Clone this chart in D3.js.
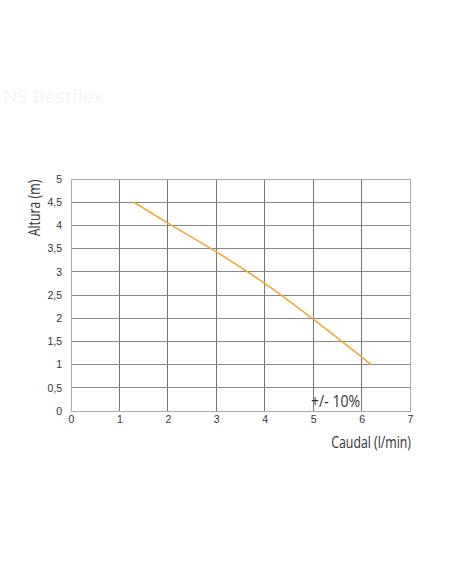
<!DOCTYPE html>
<html><head><meta charset="utf-8">
<script src="https://cdn.jsdelivr.net/npm/d3@7"></script>
<style>
html,body{margin:0;padding:0;background:#fff;}
svg{display:block;font-family:"Open Sans","DejaVu Sans",sans-serif;}
</style></head>
<body>
<svg id="c" width="452" height="584"></svg>
<script>
const flow = [1.3, 2, 3, 4, 5, 6.2];
const head = [4.5, 4.05, 3.43, 2.75, 1.98, 1.0];
const xTicks = [0,1,2,3,4,5,6,7];
const yTicks = [0,0.5,1,1.5,2,2.5,3,3.5,4,4.5,5];
const xTitle = "Caudal (l/min)";
const yTitle = "Altura (m)";
const note = "+/- 10%";
const watermark = "NS Bestflex";

const svg = d3.select("#c");
const x = d3.scaleLinear().domain([0,7]).range([71,410]);
const y = d3.scaleLinear().domain([0,5]).range([411,179]);

svg.append("text").attr("x",3).attr("y",103).attr("font-size",19)
  .attr("fill","#f4f4f4").text(watermark);

svg.append("g").selectAll("line").data(yTicks.filter(d=>d>0&&d<5)).join("line")
  .attr("x1",x(0)).attr("x2",x(7)).attr("y1",d=>y(d)).attr("y2",d=>y(d))
  .attr("stroke","#888").attr("stroke-width",1).attr("shape-rendering","crispEdges");
svg.append("g").selectAll("line").data(xTicks.filter(d=>d>0&&d<7)).join("line")
  .attr("x1",d=>x(d)).attr("x2",d=>x(d)).attr("y1",y(0)).attr("y2",y(5))
  .attr("stroke","#777").attr("stroke-width",1).attr("shape-rendering","crispEdges");
svg.append("rect").attr("x",x(0)).attr("y",y(5)).attr("width",x(7)-x(0)).attr("height",y(0)-y(5))
  .attr("fill","none").attr("stroke","#aaa").attr("stroke-width",1).attr("shape-rendering","crispEdges");

const ax = svg.append("g").attr("transform",`translate(0,${y(0)})`)
  .call(d3.axisBottom(x).tickValues(xTicks).tickFormat(d3.format("d")).tickSize(0).tickPadding(5));
ax.select(".domain").remove();
ax.selectAll("text").attr("font-size",10.5).attr("fill","#333").attr("font-family",null);

const fmt = d => String(d).replace(".",",");
const ay = svg.append("g").attr("transform",`translate(${x(0)},0)`)
  .call(d3.axisLeft(y).tickValues(yTicks).tickFormat(fmt).tickSize(0).tickPadding(9));
ay.select(".domain").remove();
ay.selectAll("text").attr("font-size",10.5).attr("fill","#333").attr("font-family",null);

svg.append("path").datum(flow.map((f,i)=>[f,head[i]]))
  .attr("d", d3.line().x(d=>x(d[0])).y(d=>y(d[1])).curve(d3.curveMonotoneX))
  .attr("fill","none").attr("stroke","#f0a830").attr("stroke-width",1.6);

svg.append("text").attr("transform","translate(411,448) scale(0.77,1)").attr("text-anchor","end")
  .attr("font-size",16).attr("fill","#333").text(xTitle);
svg.append("text").attr("transform","translate(40,208) rotate(-90) scale(0.77,1)").attr("text-anchor","middle")
  .attr("font-size",16).attr("fill","#333").text(yTitle);
svg.append("text").attr("transform","translate(311,407) scale(0.88,1)")
  .attr("font-size",16).attr("fill","#333").text(note);
</script>
</body></html>
